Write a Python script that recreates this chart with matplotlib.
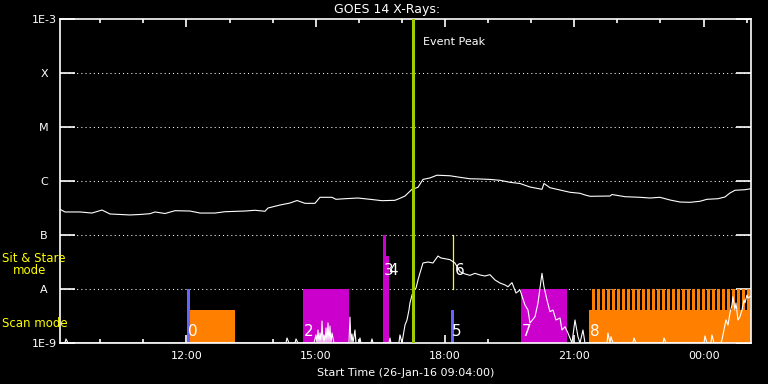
import numpy as np
import matplotlib
matplotlib.use('Agg')
import matplotlib.pyplot as plt
from matplotlib.ticker import NullLocator, FixedLocator

plt.rcParams['font.family'] = ['DejaVu Sans']

# time axis in hours since 00:00 26-Jan-16
t_start = 9.0 + 4.0 / 60.0
t_end = 25.1

# GOES 14 long channel (1-8 A), W/m^2
long_t = [9.067, 9.183, 9.531, 9.809, 10.041, 10.227, 10.459, 10.691, 10.923, 11.155,
          11.271, 11.503, 11.735, 12.083, 12.315, 12.663, 12.895, 13.359, 13.591, 13.823,
          13.893, 14.171, 14.403, 14.566, 14.751, 14.983, 15.099, 15.378, 15.470, 15.679,
          15.981, 16.259, 16.538, 16.839, 16.955, 17.071, 17.234, 17.373, 17.489, 17.651,
          17.814, 18.115, 18.347, 18.579, 18.811, 19.043, 19.276, 19.508, 19.740, 19.972,
          20.250, 20.297, 20.436, 20.668, 20.900, 21.132, 21.248, 21.364, 21.828, 21.874,
          22.176, 22.524, 22.756, 22.988, 23.220, 23.452, 23.684, 23.916, 24.078, 24.334,
          24.496, 24.612, 24.728, 24.960, 25.099]
long_flux = [2.99e-7, 2.67e-7, 2.67e-7, 2.55e-7, 2.90e-7, 2.45e-7, 2.40e-7, 2.35e-7, 2.40e-7, 2.48e-7,
             2.67e-7, 2.50e-7, 2.82e-7, 2.78e-7, 2.55e-7, 2.55e-7, 2.70e-7, 2.78e-7, 2.87e-7, 2.75e-7,
             3.16e-7, 3.59e-7, 3.91e-7, 4.35e-7, 3.86e-7, 3.86e-7, 4.99e-7, 4.99e-7, 4.58e-7, 4.70e-7,
             4.84e-7, 4.58e-7, 4.32e-7, 4.39e-7, 4.78e-7, 5.27e-7, 7.02e-7, 7.64e-7, 1.07e-6, 1.14e-6,
             1.28e-6, 1.25e-6, 1.17e-6, 1.10e-6, 1.09e-6, 1.07e-6, 1.03e-6, 9.46e-7, 8.99e-7, 7.74e-7,
             7.02e-7, 8.99e-7, 7.51e-7, 6.81e-7, 6.18e-7, 5.92e-7, 5.51e-7, 5.21e-7, 5.27e-7, 5.62e-7,
             5.12e-7, 4.99e-7, 4.84e-7, 4.99e-7, 4.45e-7, 4.08e-7, 4.03e-7, 4.21e-7, 4.58e-7, 4.70e-7,
             5.06e-7, 6.00e-7, 6.73e-7, 6.90e-7, 7.20e-7]

# GOES 14 short channel (0.5-4 A), W/m^2 (1e-9 = floor)
short_t = [9.067, 9.180, 9.206, 9.252, 14.310, 14.334, 14.380, 14.520, 14.543, 14.589,
           14.960, 15.006, 15.030, 15.053, 15.076, 15.099, 15.123, 15.146, 15.169, 15.192,
           15.215, 15.239, 15.262, 15.285, 15.308, 15.331, 15.354, 15.378, 15.424, 15.772,
           15.795, 15.818, 15.841, 15.865, 15.911, 15.934, 16.000, 16.027, 16.050, 16.280,
           16.306, 16.329, 16.700, 16.723, 16.746, 16.930, 16.955, 17.002, 17.071, 17.118,
           17.164, 17.187, 17.234, 17.280, 17.327, 17.373, 17.419, 17.489, 17.605, 17.721,
           17.837, 17.907, 18.000, 18.115, 18.231, 18.347, 18.463, 18.579, 18.695, 18.811,
           18.927, 19.043, 19.160, 19.276, 19.392, 19.461, 19.554, 19.647, 19.740, 19.856,
           19.925, 19.972, 20.088, 20.157, 20.250, 20.297, 20.366, 20.436, 20.505, 20.575,
           20.668, 20.714, 20.784, 20.853, 20.946, 21.016, 21.085, 21.132, 21.201, 21.248,
           21.760, 21.781, 21.828, 21.851, 21.897, 22.360, 22.385, 22.431, 23.060, 23.081,
           23.127, 24.010, 24.032, 24.078, 24.170, 24.194, 24.241, 24.400, 24.426, 24.519,
           24.566, 24.612, 24.659, 24.682, 24.728, 24.751, 24.798, 24.844, 24.891, 24.937,
           24.960, 25.006, 25.030, 25.099]
short_flux = [1.0e-9, 1.0e-9, 1.19e-9, 1.0e-9, 1.0e-9, 1.24e-9, 1.0e-9, 1.0e-9, 1.19e-9, 1.0e-9,
              1.0e-9, 1.41e-9, 1.0e-9, 1.74e-9, 1.0e-9, 1.53e-9, 1.0e-9, 2.55e-9, 1.0e-9, 1.41e-9,
              1.0e-9, 1.90e-9, 1.0e-9, 2.35e-9, 1.0e-9, 2.06e-9, 1.0e-9, 1.53e-9, 1.0e-9, 1.0e-9,
              3.03e-9, 1.0e-9, 1.47e-9, 1.0e-9, 1.74e-9, 1.0e-9, 1.0e-9, 1.24e-9, 1.0e-9, 1.0e-9,
              1.19e-9, 1.0e-9, 1.0e-9, 1.24e-9, 1.0e-9, 1.0e-9, 1.41e-9, 1.0e-9, 2.15e-9, 2.67e-9,
              4.08e-9, 5.51e-9, 7.74e-9, 9.58e-9, 1.04e-8, 1.47e-8, 1.98e-8, 3.03e-8, 3.16e-8, 3.03e-8,
              4.08e-8, 3.75e-8, 3.64e-8, 3.49e-8, 3.03e-8, 2.09e-8, 1.90e-8, 1.79e-8, 1.95e-8, 1.82e-8,
              1.74e-8, 1.84e-8, 1.47e-8, 1.29e-8, 1.19e-8, 1.10e-8, 1.31e-8, 8.43e-9, 9.58e-9, 5.05e-9,
              4.08e-9, 2.35e-9, 3.07e-9, 5.51e-9, 1.95e-8, 1.10e-8, 6.26e-9, 3.80e-9, 4.08e-9, 2.67e-9,
              2.90e-9, 1.74e-9, 2.00e-9, 1.53e-9, 1.0e-9, 2.67e-9, 1.31e-9, 1.0e-9, 1.74e-9, 1.0e-9,
              1.0e-9, 1.53e-9, 1.0e-9, 1.31e-9, 1.0e-9, 1.0e-9, 1.24e-9, 1.0e-9, 1.0e-9, 1.24e-9,
              1.0e-9, 1.0e-9, 1.35e-9, 1.0e-9, 1.0e-9, 1.41e-9, 1.0e-9, 1.0e-9, 1.14e-9, 2.67e-9,
              2.15e-9, 3.59e-9, 5.05e-9, 7.20e-9, 4.08e-9, 5.51e-9, 2.67e-9, 3.07e-9, 4.08e-9, 6.26e-9,
              5.51e-9, 7.74e-9, 6.81e-9, 7.42e-9]

# observation blocks (hours, top flux)
obs_start = [12.01, 12.08, 14.71, 16.56, 16.64, 18.14, 19.76, 21.34]
obs_end = [12.08, 13.13, 15.77, 16.64, 16.71, 18.21, 20.82, 25.12]
obs_top = [1e-8, 4.1e-9, 1e-8, 1e-7, 4.1e-8, 4.1e-9, 1e-8, 4.1e-9]
obs_kind = ['blue', 'orange', 'magenta', 'magenta', 'magenta', 'blue', 'magenta', 'orange']

# repeated scan rasters of block 8
raster_start = [21.41, 21.53, 21.64, 21.76, 21.88, 21.99, 22.11, 22.22, 22.34, 22.46,
                22.57, 22.69, 22.80, 22.92, 23.04, 23.15, 23.27, 23.39, 23.50, 23.62,
                23.73, 23.85, 23.97, 24.08, 24.20, 24.31, 24.43, 24.55, 24.66, 24.78,
                24.90, 25.01]
raster_len = 0.07

obs_labels = ['0', '2', '3', '4', '5', '6', '7', '8']
label_t = [12.04, 14.73, 16.58, 16.68, 18.16, 18.23, 19.79, 21.36]
label_flux = [1.2e-9, 1.2e-9, 1.6e-8, 1.6e-8, 1.2e-9, 1.6e-8, 1.2e-9, 1.2e-9]

sitstare_t = 18.19
event_peak_t = 17.25

ytick_vals = [1e-9, 1e-8, 1e-7, 1e-6, 1e-5, 1e-4, 1e-3]
ytick_labels = ['1E-9', 'A', 'B', 'C', 'M', 'X', '1E-3']
xtick_vals = [12, 15, 18, 21, 24]
xtick_labels = ['12:00', '15:00', '18:00', '21:00', '00:00']

colors = {'blue': '#6464ff', 'orange': '#ff8000', 'magenta': '#cc00cc'}

fig = plt.figure(figsize=(7.68, 3.84), dpi=100, facecolor='black')
ax = fig.add_axes([60 / 768, 41 / 384, 691 / 768, 324 / 384], facecolor='black')
ax.set_yscale('log')
ax.set_xlim(t_start, t_end)
ax.set_ylim(1e-9, 1e-3)

# dotted class levels
for v in ytick_vals[1:-1]:
    ax.axhline(v, color='white', lw=0.75, ls=(0, (1, 3)), zorder=1)

# observation blocks
for s, e, top, k in zip(obs_start, obs_end, obs_top, obs_kind):
    ax.bar(s, top - 1e-9, width=e - s, bottom=1e-9, align='edge',
           color=colors[k], lw=0, zorder=2)
ax.bar(raster_start, [1e-8 - 4.1e-9] * len(raster_start), width=raster_len,
       bottom=4.1e-9, align='edge', color=colors['orange'], lw=0, zorder=2)
ax.plot([sitstare_t, sitstare_t], [1e-8, 1e-7], color='yellow', lw=0.9, zorder=3)

# GOES curves
ax.plot(long_t, long_flux, color='white', lw=0.8, zorder=4)
ax.plot(short_t, short_flux, color='white', lw=0.8, zorder=4)

for lab, t, f in zip(obs_labels, label_t, label_flux):
    ax.text(t, f, lab, color='white', fontsize=11, ha='left', va='bottom', zorder=5)

ax.axvline(event_peak_t, color='#a0cc00', lw=2.2, zorder=6)
ax.text(17.49, 3.75e-4, 'Event Peak', color='white', fontsize=8, ha='left', va='center')

# axes styling
for sp in ax.spines.values():
    sp.set_color('white')
    sp.set_linewidth(1.2)
ax.yaxis.set_minor_locator(NullLocator())
ax.set_yticks(ytick_vals)
ax.set_yticklabels(ytick_labels, ha='center')
ax.set_xticks(xtick_vals)
ax.set_xticklabels(xtick_labels)
ax.xaxis.set_minor_locator(FixedLocator(np.arange(10, 26)))
ax.tick_params(axis='y', which='major', direction='in', length=10.8, width=1.2,
               colors='white', left=True, right=True, pad=11.5, labelsize=8)
ax.tick_params(axis='x', which='major', direction='in', length=5.5, width=1.2,
               colors='white', top=True, bottom=True, pad=6, labelsize=8)
ax.tick_params(axis='x', which='minor', direction='in', length=3, width=1.2,
               colors='white', top=True, bottom=True)

fig.text(387 / 768, 1 - 9 / 384, 'GOES 14 X-Rays:', color='white', fontsize=9,
         ha='center', va='center')
fig.text(405.5 / 768, 1 - 373.5 / 384, 'Start Time (26-Jan-16 09:04:00)', color='white',
         fontsize=8, ha='center', va='center')
fig.text(2 / 768, 1 - 258.5 / 384, 'Sit & Stare', color='yellow', fontsize=8.5,
         ha='left', va='center')
fig.text(13 / 768, 1 - 270.5 / 384, 'mode', color='yellow', fontsize=8.5,
         ha='left', va='center')
fig.text(2 / 768, 1 - 323.5 / 384, 'Scan mode', color='yellow', fontsize=8.5,
         ha='left', va='center')

fig.savefig('out.png', dpi=100, facecolor='black')
